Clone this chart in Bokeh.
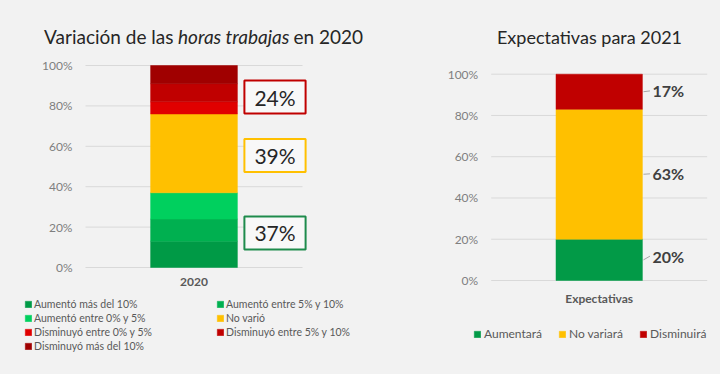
from bokeh.plotting import figure
from bokeh.models import (ColumnDataSource, Range1d, FixedTicker, PrintfTickFormatter,
                          Legend, LegendItem, Label, GlobalInlineStyleSheet)
from bokeh.layouts import row
from bokeh.core.properties import value
from bokeh.embed import file_html
from bokeh.resources import INLINE

# ---------------- data ----------------
cat_2020 = "2020"
seg_names_2020 = ["Aumentó más del 10%", "Aumentó entre 5% y 10%", "Aumentó entre 0% y 5%",
                  "No varió", "Disminuyó entre 0% y 5%", "Disminuyó entre 5% y 10%",
                  "Disminuyó más del 10%"]
seg_values_2020 = [13, 11, 13, 39, 6, 9, 9]
group_sizes_2020 = [3, 1, 3]          # aumentó / no varió / disminuyó

cat_2021 = "Expectativas"
seg_names_2021 = ["Aumentará", "No variará", "Disminuirá"]
seg_values_2021 = [20, 63, 17]

tick_values = [0, 20, 40, 60, 80, 100]

# ---------------- style / layout nudges ----------------
FONT = "Lato"
BG = "#f2f2f2"
TITLE_C = "#262626"
colors_2020 = ["#009a46", "#00b050", "#00d05e", "#ffc000", "#e00000", "#c00000", "#a00000"]
box_colors = ["#1e8b4c", "#ffc000", "#c00000"]
colors_2021 = ["#029a47", "#ffc000", "#c00000"]
box_shift = [-1.4, -1.1, -3.6]        # vertical nudge of the group boxes (in % units)
label_shift = [1.8, 0.2, 0.4]         # vertical nudge of the right-hand data labels


def base_fig(width, height, fx0, fx1, fy_top, fy0, cat_label):
    """fx0/fx1: pixel x of data 0 and 1; fy_top/fy0: pixel y of 100 and 0."""
    sx = (fx1 - fx0)
    sy = (fy0 - fy_top) / 100.0
    xr = Range1d(-fx0 / sx, 1 + (width - fx1) / sx)
    yr = Range1d(-(height - fy0) / sy, 100 + fy_top / sy)
    p = figure(width=width, height=height, x_range=xr, y_range=yr,
               output_backend="svg", toolbar_location=None, min_border=0)
    p.background_fill_color = BG
    p.border_fill_color = BG
    p.outline_line_color = None
    p.xgrid.grid_line_color = None
    p.ygrid.grid_line_color = None
    # horizontal gridlines limited to the plotting band
    p.segment(x0=0, x1=1, y0=tick_values, y1=tick_values, line_color="#d9d9d9", line_width=1)
    p.yaxis.ticker = FixedTicker(ticks=tick_values)
    p.yaxis.formatter = PrintfTickFormatter(format="%d%%")
    for ax in (p.xaxis[0], p.yaxis[0]):
        ax.fixed_location = 0
        ax.axis_line_color = None
        ax.major_tick_line_color = None
        ax.minor_tick_line_color = None
        ax.major_tick_in = 0
        ax.major_tick_out = 0
        ax.major_label_text_font = FONT
    p.yaxis.major_label_text_font_size = "12px"
    p.yaxis.major_label_text_color = "#7f7f7f"
    p.yaxis.major_label_standoff = 13
    p.xaxis.ticker = FixedTicker(ticks=[0.5])
    p.xaxis.major_label_overrides = {0.5: cat_label}
    p.xaxis.major_label_text_font_size = "12px"
    p.xaxis.major_label_text_font_style = "bold"
    p.xaxis.major_label_text_color = "#595959"
    p.xaxis.major_label_standoff = 10
    return p


# ================= left chart =================
LW, H = 368, 374
left = base_fig(LW, H, 85, 302, 65, 267, cat_2020)
keys = [f"s{i}" for i in range(len(seg_values_2020))]
src = ColumnDataSource({"x": [0.5], **{k: [v] for k, v in zip(keys, seg_values_2020)}})
rs = left.vbar_stack(keys, x="x", width=0.4, source=src, fill_color=colors_2020,
                     line_color=colors_2020, line_width=0.5)
legend_l = Legend(items=[LegendItem(label=n, renderers=[r]) for n, r in zip(seg_names_2020, rs)],
                  location=(24, 21), orientation="horizontal", ncols=2,
                  padding=0, margin=0, spacing=0, border_line_color=None,
                  background_fill_alpha=0, glyph_width=8, glyph_height=8,
                  label_standoff=2, label_height=14, label_width=182,
                  label_text_font=FONT, label_text_font_size="10.5px",
                  label_text_color="#595959")
left.add_layout(legend_l, "center")

# group boxes
start = 0
bottom = 0
for gi, size in enumerate(group_sizes_2020):
    total = sum(seg_values_2020[start:start + size])
    mid = bottom + total / 2 + box_shift[gi]
    left.add_layout(Label(x=(274.5 - 85) / 217, y=mid, text=f"{total}%",
                          text_align="center", text_baseline="middle",
                          text_font=FONT, text_font_size="21px", text_color=TITLE_C,
                          background_fill_color="#f8f8f8", border_line_color=box_colors[gi],
                          border_line_width=2, padding=(10, 4)))
    start += size
    bottom += total

# title with italic part
ty = (267 - 47.5) / 2.02
left.add_layout(Label(x=(173 - 85) / 217, y=ty, text="Variación de las", text_align="right",
                      text_font=FONT, text_font_size="19px", text_color=TITLE_C))
left.add_layout(Label(x=(177.5 - 85) / 217, y=ty, text="horas trabajas", text_align="left",
                      text_font=FONT, text_font_size="19px", text_font_style="italic",
                      text_color=TITLE_C))
left.add_layout(Label(x=(293 - 85) / 217, y=ty, text="en 2020", text_align="left",
                      text_font=FONT, text_font_size="19px", text_color=TITLE_C))

# ================= right chart =================
RW = 352
right = base_fig(RW, H, 490.7 - LW, 706.7 - LW, 73.7, 280, cat_2021)
keys2 = [f"e{i}" for i in range(len(seg_values_2021))]
src2 = ColumnDataSource({"x": [0.5], **{k: [v] for k, v in zip(keys2, seg_values_2021)}})
rs2 = right.vbar_stack(keys2, x="x", width=0.4, source=src2, fill_color=colors_2021,
                       line_color=colors_2021, line_width=0.5)
legend_r = Legend(items=[LegendItem(label=n, renderers=[r]) for n, r in zip(seg_names_2021, rs2)],
                  location=(473 - LW, 33), orientation="horizontal",
                  padding=0, margin=0, spacing=16, border_line_color=None,
                  background_fill_alpha=0, glyph_width=8, glyph_height=8,
                  label_standoff=3, label_height=14,
                  label_text_font=FONT, label_text_font_size="12px",
                  label_text_color="#595959")
right.add_layout(legend_r, "center")

mids = []
acc = 0
for v in seg_values_2021:
    mids.append(acc + v / 2)
    acc += v
lab_y = [m + s for m, s in zip(mids, label_shift)]
lab_src = ColumnDataSource({"x": [0.7] * 3, "mid": mids, "y": lab_y,
                            "t": [f"{v}%" for v in seg_values_2021]})
right.segment(x0=0.705, x1=0.735, y0="mid", y1="y", source=lab_src, line_color="#a6a6a6",
              line_width=1)
right.text(x="x", y="y", text="t", source=lab_src, x_offset=10, text_align="left",
           text_baseline="middle", text_font=value(FONT), text_font_size="16px",
           text_font_style="bold", text_color="#404040")

right.add_layout(Label(x=(589 - 490.7) / 216, y=(280 - 47.5) / 2.063,
                       text="Expectativas para 2021", text_align="center",
                       text_font=FONT, text_font_size="18px", text_color=TITLE_C))

layout = row(left, right,
             stylesheets=[GlobalInlineStyleSheet(css="html, body { background: #f2f2f2; }")])

open("out.html", "w").write(file_html(layout, INLINE))
